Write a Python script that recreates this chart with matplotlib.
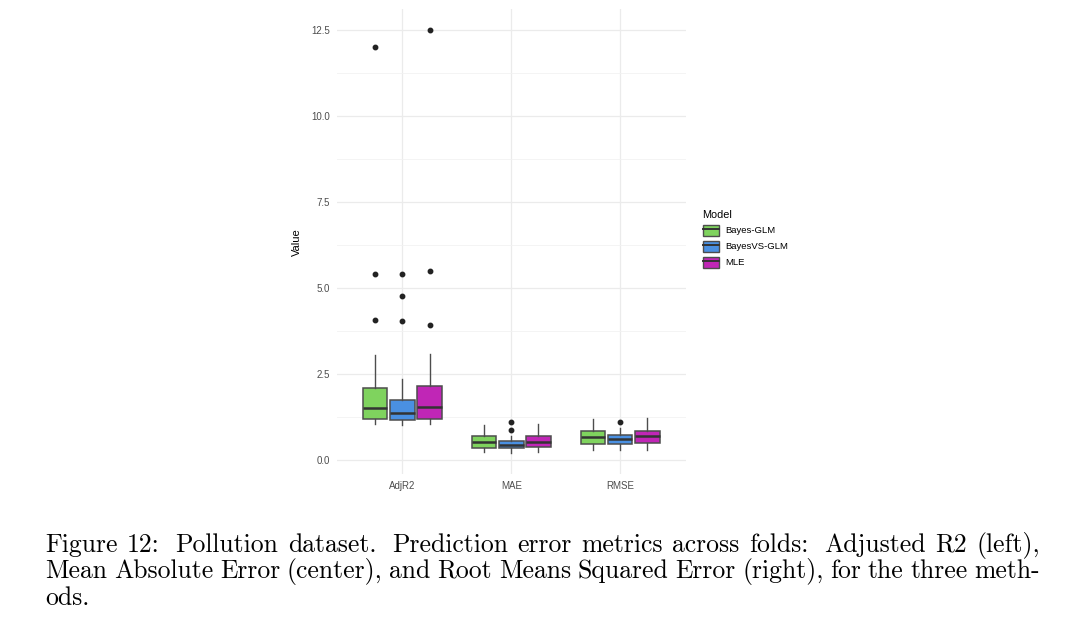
import matplotlib
matplotlib.use("Agg")
import matplotlib.pyplot as plt
from matplotlib.patches import Patch
from matplotlib.lines import Line2D
from matplotlib.legend_handler import HandlerTuple

# ---- data (rows = metric, cols = model) ----
metrics = ["AdjR2", "MAE", "RMSE"]
models = ["Bayes-GLM", "BayesVS-GLM", "MLE"]
colors = ["#7fd35e", "#4a90e2", "#c026b6"]

q1 = [[1.20, 1.16, 1.21], [0.37, 0.37, 0.39], [0.48, 0.48, 0.50]]
med = [[1.53, 1.38, 1.55], [0.52, 0.45, 0.54], [0.67, 0.61, 0.69]]
q3 = [[2.11, 1.74, 2.15], [0.70, 0.55, 0.70], [0.84, 0.73, 0.86]]
whislo = [[1.04, 1.02, 1.05], [0.24, 0.21, 0.24], [0.29, 0.29, 0.31]]
whishi = [[3.05, 2.37, 3.10], [1.01, 0.70, 1.05], [1.20, 0.94, 1.22]]
fliers = [
    [[12.0, 5.4, 4.07], [5.4, 4.77, 4.04], [12.5, 5.49, 3.92]],
    [[], [1.11, 0.87], []],
    [[], [1.12], []],
]

caption_lines = [
    "Figure 12: Pollution dataset. Prediction error metrics across folds: Adjusted R2 (left),",
    "Mean Absolute Error (center), and Root Means Squared Error (right), for the three meth-",
    "ods.",
]

W, H = 1080, 639
fig = plt.figure(figsize=(W / 100, H / 100), dpi=100)
ax = fig.add_axes([337 / W, 1 - 474 / H, (685.5 - 337) / W, (474 - 9.4) / H])

sans = "Liberation Sans"
edge = "#4d4d4d"
offsets = [-0.25, 0.0, 0.25]

for i in range(len(metrics)):
    for j in range(len(models)):
        stats = [dict(med=med[i][j], q1=q1[i][j], q3=q3[i][j],
                      whislo=whislo[i][j], whishi=whishi[i][j],
                      fliers=fliers[i][j])]
        ax.bxp(stats, positions=[i + 1 + offsets[j]], widths=0.225,
               patch_artist=True, showcaps=False,
               boxprops=dict(facecolor=colors[j], edgecolor=edge, linewidth=1.1),
               whiskerprops=dict(color=edge, linewidth=1.0),
               medianprops=dict(color="#333333", linewidth=1.8),
               flierprops=dict(marker="o", markersize=3.2, markerfacecolor="#222222",
                               markeredgecolor="#222222"),
               zorder=3)

ax.set_xlim(0.4, 3.6)
ax.set_ylim(-0.4, 13.1)
ax.set_xticks([1, 2, 3])
ax.set_xticklabels(metrics)
ax.set_yticks([0, 2.5, 5, 7.5, 10, 12.5])
ax.set_yticklabels(["0.0", "2.5", "5.0", "7.5", "10.0", "12.5"])
ax.set_yticks([1.25, 3.75, 6.25, 8.75, 11.25], minor=True)
ax.grid(True, which="major", color="#ebebeb", linewidth=0.9, zorder=0)
ax.grid(True, which="minor", axis="y", color="#f2f2f2", linewidth=0.6, zorder=0)
ax.set_axisbelow(True)
for s in ax.spines.values():
    s.set_visible(False)
ax.tick_params(length=0, labelsize=7, labelcolor="#4d4d4d", pad=5)
ax.tick_params(which="minor", length=0)
for t in ax.get_xticklabels() + ax.get_yticklabels():
    t.set_fontfamily(sans)
ax.set_ylabel("Value", fontsize=8, family=sans, labelpad=7)

handles = [(Patch(facecolor=c, edgecolor=edge, linewidth=1.0),
            Line2D([], [], color="#333333", linewidth=1.4)) for c in colors]
leg = fig.legend(handles, models, title="Model", loc="upper left",
                 bbox_to_anchor=(694 / W, 1 - 201 / H), frameon=False,
                 handler_map={tuple: HandlerTuple(ndivide=1)},
                 prop=dict(family=sans, size=6.8), handlelength=1.7,
                 handleheight=1.4, labelspacing=0.55, handletextpad=0.7)
leg.get_title().set_fontfamily(sans)
leg.get_title().set_fontsize(7.8)
leg._legend_box.align = "left"

# ---- justified caption in a Computer Modern-like face ----
renderer = fig.canvas.get_renderer()
cap_kw = dict(fontfamily="cmr10", fontsize=18.5, color="black", va="baseline")
x0, x1 = 45, 1040
baselines = [551.7, 578.0, 605.0]
for k, line in enumerate(caption_lines):
    words = line.split(" ")
    y = 1 - baselines[k] / H
    if k == len(caption_lines) - 1:
        fig.text(x0 / W, y, line, **cap_kw)
        continue
    texts = [fig.text(0, y, w, **cap_kw) for w in words]
    widths = [t.get_window_extent(renderer).width for t in texts]
    weights = [1.6 if w.endswith(".") or w.endswith(":") else 1.0 for w in words[:-1]]
    unit = (x1 - x0 - sum(widths)) / sum(weights)
    x = x0
    for t, wd, wt in zip(texts, widths, weights + [0]):
        t.set_x(x / W)
        x += wd + unit * wt

fig.savefig("out.png", dpi=100)
